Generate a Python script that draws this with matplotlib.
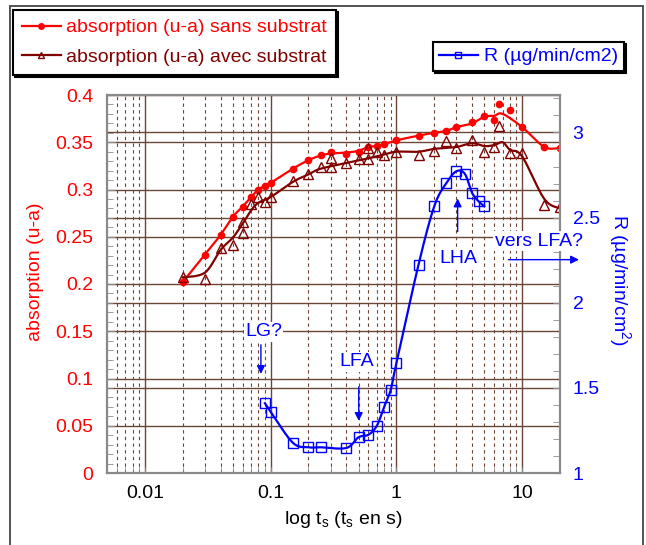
import numpy as np
import matplotlib
matplotlib.use('Agg')
import matplotlib.pyplot as plt
import matplotlib.transforms as mtransforms
from matplotlib.ticker import FixedLocator, MultipleLocator, NullFormatter, LogLocator
from matplotlib.lines import Line2D
from matplotlib.patches import Rectangle

plt.rcParams['font.family'] = ['Liberation Sans', 'DejaVu Sans']

# absorption sans substrat (markers)
t_sans = [0.02, 0.03, 0.04, 0.05, 0.06, 0.07, 0.08, 0.09, 0.1, 0.15, 0.2, 0.25, 0.3, 0.4, 0.5,
          0.6, 0.7, 0.8, 1, 1.5, 2, 2.5, 3, 4, 5, 6, 6.5, 8, 10, 15, 20]
abs_sans = [0.202, 0.231, 0.252, 0.271, 0.282, 0.292, 0.300, 0.304, 0.307, 0.322, 0.331, 0.336, 0.340, 0.338, 0.340,
            0.345, 0.346, 0.348, 0.352, 0.357, 0.360, 0.362, 0.366, 0.371, 0.378, 0.374, 0.390, 0.384, 0.366, 0.345, 0.344]
# smoothed curve
t_sans_fit = [0.02, 0.03, 0.04, 0.05, 0.06, 0.07, 0.08, 0.09, 0.1, 0.15, 0.2, 0.25, 0.3, 0.4, 0.5,
              0.6, 0.7, 0.8, 1, 1.5, 2, 2.5, 3, 4, 5, 6, 7, 10, 15, 20]
abs_sans_fit = [0.202, 0.231, 0.252, 0.271, 0.282, 0.292, 0.300, 0.304, 0.307, 0.322, 0.331, 0.336, 0.338, 0.339, 0.341,
                0.345, 0.346, 0.348, 0.352, 0.357, 0.360, 0.362, 0.366, 0.370, 0.377, 0.378, 0.380, 0.366, 0.345, 0.344]

# absorption avec substrat (markers)
t_avec = [0.02, 0.03, 0.04, 0.05, 0.06, 0.06, 0.07, 0.08, 0.09, 0.1, 0.15, 0.2, 0.25, 0.3, 0.3, 0.4, 0.5,
          0.6, 0.6, 0.7, 0.8, 1, 1.5, 2, 2.5, 3, 4, 5, 6, 6.5, 8, 10, 15, 20]
abs_avec = [0.207, 0.205, 0.238, 0.241, 0.254, 0.266, 0.285, 0.292, 0.287, 0.292, 0.309, 0.316, 0.324, 0.324, 0.333, 0.328, 0.332,
            0.332, 0.344, 0.340, 0.337, 0.340, 0.336, 0.341, 0.351, 0.344, 0.352, 0.340, 0.345, 0.367, 0.339, 0.339, 0.284, 0.281]
t_avec_fit = [0.02, 0.03, 0.04, 0.05, 0.06, 0.07, 0.08, 0.1, 0.15, 0.2, 0.25, 0.4, 0.6, 0.8, 1, 1.5,
              2, 3, 4, 5, 6, 7, 8, 10, 15, 20]
abs_avec_fit = [0.207, 0.212, 0.236, 0.249, 0.264, 0.278, 0.286, 0.292, 0.308, 0.316, 0.322, 0.328, 0.333, 0.337, 0.340, 0.340,
                0.343, 0.345, 0.349, 0.346, 0.347, 0.350, 0.342, 0.335, 0.290, 0.280]

# R (ug/min/cm2)
t_R = [0.09, 0.1, 0.15, 0.2, 0.25, 0.4, 0.5, 0.6, 0.7, 0.8, 0.9, 1, 1.5, 2, 2.5, 3, 3.5, 4, 4.5, 5]
R = [1.41, 1.36, 1.178, 1.151, 1.151, 1.147, 1.21, 1.225, 1.278, 1.39, 1.486, 1.645, 2.224, 2.566, 2.704,
     2.772, 2.757, 2.645, 2.596, 2.566]

left_ticks = [0, 0.05, 0.1, 0.15, 0.2, 0.25, 0.3, 0.35, 0.4]
left_labels = ['0', '0.05', '0.1', '0.15', '0.2', '0.25', '0.3', '0.35', '0.4']
right_ticks = [1, 1.5, 2, 2.5, 3]
right_labels = ['1', '1.5', '2', '2.5', '3']
x_ticks = [0.01, 0.1, 1, 10]
x_labels = ['0.01', '0.1', '1', '10']

RED = '#ff0000'
DRED = '#800000'
BLUE = '#0000ff'
GRID = '#6b4636'
SPINE = '#8a8a8a'
DEC = 126.0  # pixels per decade, used for Excel-like smoothing


def smooth(t, v, k):
    # Excel style smoothed line: bezier through the points, done in screen-like units
    P = np.column_stack([np.log10(t) * DEC, np.asarray(v, float) * k])
    n = len(P)
    s = np.linspace(0, 1, 20)[:, None]
    out = []
    for i in range(n - 1):
        p0, p1, p2, p3 = P[max(i - 1, 0)], P[i], P[i + 1], P[min(i + 2, n - 1)]
        c1 = p1 + (p2 - p0) / 6
        c2 = p2 - (p3 - p1) / 6
        out.append((1 - s) ** 3 * p1 + 3 * (1 - s) ** 2 * s * c1 + 3 * (1 - s) * s ** 2 * c2 + s ** 3 * p2)
    pts = np.vstack(out)
    return 10 ** (pts[:, 0] / DEC), pts[:, 1] / k


fig = plt.figure(figsize=(6.46, 5.45), dpi=100)
ax = fig.add_axes([107 / 646, 72 / 545, 453 / 646, 378 / 545])
ax2 = ax.twinx()

ax.set_xscale('log')
ax.set_xlim(0.005, 20)
ax.set_ylim(0, 0.4)
ax2.set_ylim(1, 3.22)

# grid: vertical decades solid, minors dashed, horizontal from both axes
ax.grid(True, which='major', axis='x', color=GRID, lw=1.0, ls='-')
ax.grid(True, which='minor', axis='x', color=GRID, lw=0.8, ls=(0, (3, 3)))
ax.grid(True, which='major', axis='y', color=GRID, lw=1.0, ls='-')
ax.set_axisbelow(True)
blend = mtransforms.blended_transform_factory(ax.transAxes, ax2.transData)
for r in right_ticks[1:]:
    ax.plot([0, 1], [r, r], transform=blend, color=GRID, lw=1.0, zorder=0.5)

# absorption curves
xs, ys = smooth(t_sans_fit, abs_sans_fit, 945)
ax.plot(xs, ys, color=RED, lw=1.6, zorder=3)
ax.plot(t_sans, abs_sans, ls='none', marker='o', ms=4.5, color=RED, zorder=4)
xs, ys = smooth(t_avec_fit, abs_avec_fit, 945)
ax.plot(xs, ys, color=DRED, lw=1.6, zorder=3)
ax.plot(t_avec, abs_avec, ls='none', marker='^', ms=7.5, mfc='none', mec=DRED, mew=1.0, zorder=4)

# R curve
xs, ys = smooth(t_R, R, 170)
ax2.plot(xs, ys, color=BLUE, lw=1.6, zorder=3)
ax2.plot(t_R, R, ls='none', marker='s', ms=7, mfc='none', mec=BLUE, mew=1.0, zorder=4)

# ticks
ax.xaxis.set_major_locator(FixedLocator(x_ticks))
ax.set_xticklabels(x_labels)
ax.xaxis.set_minor_locator(LogLocator(base=10, subs=np.arange(2, 10)))
ax.xaxis.set_minor_formatter(NullFormatter())
ax.set_yticks(left_ticks)
ax.set_yticklabels(left_labels)
ax.yaxis.set_minor_locator(MultipleLocator(0.01))
ax2.set_yticks(right_ticks)
ax2.set_yticklabels(right_labels)
ax2.yaxis.set_minor_locator(MultipleLocator(0.1))

ax.tick_params(axis='x', which='both', direction='in', length=4, color=SPINE, labelsize=14, pad=9)
ax.tick_params(axis='y', which='major', direction='in', length=6, color=SPINE, labelsize=14, labelcolor=RED, pad=10)
ax.tick_params(axis='y', which='minor', direction='in', length=4, color=SPINE)
ax2.tick_params(axis='y', which='major', direction='in', length=5, color=SPINE, labelsize=14, labelcolor=BLUE, pad=9)
ax2.tick_params(axis='y', which='minor', direction='in', length=5, color=SPINE)
for a in (ax, ax2):
    for sp in a.spines.values():
        sp.set_color(SPINE)
        sp.set_linewidth(1.5)

# annotations
tb = dict(facecolor='white', edgecolor='none', pad=1)
arr = dict(arrowstyle='-|>', color=BLUE, lw=1.0, mutation_scale=12, shrinkA=0, shrinkB=0)
ax2.text(0.088, 1.829, 'LG?', color=BLUE, fontsize=14, ha='center', va='center', bbox=tb)
ax2.annotate('', xy=(0.0837, 1.582), xytext=(0.0837, 1.753), arrowprops=arr)
ax2.text(0.486, 1.653, 'LFA', color=BLUE, fontsize=14, ha='center', va='center', bbox=tb)
ax2.annotate('', xy=(0.502, 1.306), xytext=(0.502, 1.506), arrowprops=arr)
ax2.text(3.1, 2.259, 'LHA', color=BLUE, fontsize=14, ha='center', va='center', bbox=tb)
ax2.annotate('', xy=(3.07, 2.612), xytext=(3.07, 2.418), arrowprops=arr)
ax2.text(13.5, 2.362, 'vers LFA?', color=BLUE, fontsize=14, ha='center', va='center', bbox=tb, zorder=5)
ax2.annotate('', xy=(28.3, 2.253), xytext=(7.78, 2.253), arrowprops=arr, annotation_clip=False, zorder=6)

# axis titles
fig.text(35 / 646, 1 - 272 / 545, 'absorption (u-a)', rotation=90, color=RED, fontsize=14, ha='center', va='center')
fig.text(619 / 646, 1 - 280 / 545, r'R (µg/min/cm$^\mathregular{2}$)', rotation=270, color=BLUE, fontsize=14,
         ha='center', va='center')
fig.text(343 / 646, 1 - 519 / 545, r'log t$_\mathregular{s}$ (t$_\mathregular{s}$ en s)', color='black', fontsize=14,
         ha='center', va='center')

# legends
h1 = Line2D([], [], color=RED, lw=1.6, marker='o', ms=4)
h2 = Line2D([], [], color=DRED, lw=1.6, marker='^', ms=5, mfc='none', mew=1.0)
h3 = Line2D([], [], color=BLUE, lw=1.6, marker='s', ms=5, mfc='none', mew=1.0)
shadow = {'color': 'black', 'alpha': 1, 'ox': 1.5, 'oy': -1.5}
leg1 = fig.legend([h1, h2], ['absorption (u-a) sans substrat', 'absorption (u-a) avec substrat'],
                  loc='upper left', bbox_to_anchor=(13 / 646, 1 - 10 / 545), borderaxespad=0,
                  fontsize=14, frameon=True, fancybox=False, shadow=shadow, framealpha=1,
                  edgecolor='black', handlelength=2.0, handletextpad=0.3, labelspacing=0.62,
                  borderpad=0.45)
leg1.get_frame().set_linewidth(1.5)
for txt, c in zip(leg1.get_texts(), [RED, DRED]):
    txt.set_color(c)
leg2 = fig.legend([h3], ['R (µg/min/cm2)'], loc='upper left', bbox_to_anchor=(433 / 646, 1 - 42 / 545),
                  borderaxespad=0, fontsize=14, frameon=True, fancybox=False, shadow=shadow, framealpha=1,
                  edgecolor='black', handlelength=2.0, handletextpad=0.3, borderpad=0.3)
leg2.get_frame().set_linewidth(1.5)
leg2.get_texts()[0].set_color(BLUE)

# chart area border
fig.patches.append(Rectangle((10 / 646, -0.01), 633 / 646, 1.01 - 6 / 545, transform=fig.transFigure,
                             fill=False, edgecolor='#444444', lw=1.3))

fig.savefig('out.png', dpi=100)
